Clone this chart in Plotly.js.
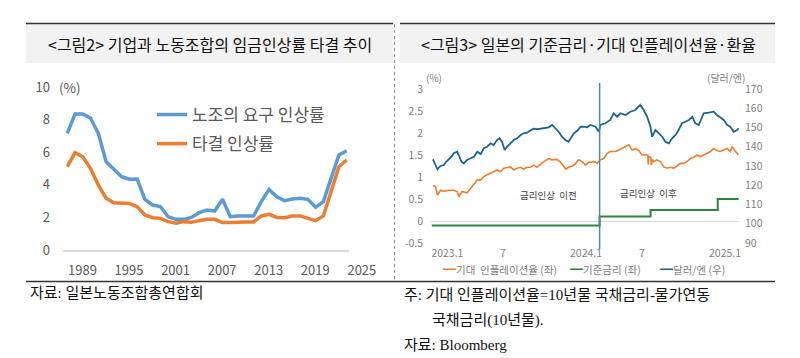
<!DOCTYPE html>
<html>
<head>
<meta charset="utf-8">
<script src="https://cdn.plot.ly/plotly-3.0.1.min.js"></script>
<style>
html,body{margin:0;padding:0;background:#fff;}
#chart{width:800px;height:358px;}
</style>
</head>
<body>
<div id="chart"></div>
<script>
// ---------- Left panel: 임금인상률 (Rengo) ----------
const wageYears = [1989,1990,1991,1992,1993,1994,1995,1996,1997,1998,1999,2000,2001,2002,2003,2004,2005,2006,2007,2008,2009,2010,2011,2012,2013,2014,2015,2016,2017,2018,2019,2020,2021,2022,2023,2024,2025];
const unionDemand = [7.16,8.34,8.34,8.08,7.16,5.42,4.95,4.50,4.34,4.36,3.11,2.76,2.66,2.04,1.88,1.88,2.00,2.29,2.45,2.39,3.11,2.04,2.08,2.08,2.08,2.97,3.72,3.27,3.02,3.13,3.17,3.11,2.62,2.97,4.40,5.83,6.09];
const settledRate = [5.11,5.97,5.72,5.00,3.99,3.17,2.90,2.86,2.86,2.66,2.15,1.98,1.94,1.74,1.64,1.74,1.70,1.80,1.88,1.88,1.68,1.68,1.72,1.72,1.72,2.09,2.19,2.00,1.98,2.09,2.09,1.94,1.80,2.09,3.58,5.11,5.52];
const wageNames = ['노조의 요구 인상률','타결 인상률'];
const wageTickYears = [1989,1995,2001,2007,2013,2019,2025];
const wageTickText = ['1989','1995','2001','2007','2013','2019','2025'];
const wageYTicks = [0,2,4,6,8,10];

// ---------- Right panel: 기준금리·기대인플레·환율 ----------
const fxDates = ['2023-01-05','2023-01-17','2023-01-25','2023-02-03','2023-02-09','2023-02-16','2023-02-23','2023-03-01','2023-03-10','2023-03-14','2023-03-21','2023-03-27','2023-04-05','2023-04-14','2023-04-23','2023-05-02','2023-05-11','2023-05-19','2023-05-28','2023-06-06','2023-06-14','2023-06-23','2023-06-29','2023-07-06','2023-07-13','2023-07-19','2023-07-28','2023-08-06','2023-08-15','2023-08-24','2023-09-01','2023-09-10','2023-09-19','2023-09-28','2023-10-06','2023-10-24','2023-11-06','2023-11-15','2023-11-23','2023-12-02','2023-12-11','2023-12-20','2023-12-28','2024-01-02','2024-01-11','2024-01-20','2024-01-29','2024-02-06','2024-02-15','2024-02-24','2024-03-08','2024-03-17','2024-03-21','2024-04-03','2024-04-16','2024-04-25','2024-05-04','2024-05-13','2024-05-26','2024-06-08','2024-06-21','2024-07-04','2024-07-13','2024-07-22','2024-07-31','2024-08-04','2024-08-13','2024-08-22','2024-08-31','2024-09-08','2024-09-17','2024-09-26','2024-10-05','2024-10-13','2024-10-22','2024-10-31','2024-11-09','2024-11-18','2024-11-26','2024-12-05','2024-12-18','2024-12-31','2025-01-13','2025-01-22','2025-01-31','2025-02-09','2025-02-18','2025-02-26','2025-03-07','2025-03-16','2025-03-20'];
const fxValues = [133.5,128.3,130.0,130.5,132.2,133.5,134.8,136.6,137.4,135.7,132.2,131.4,133.1,134.0,134.8,137.4,136.2,139.2,140.0,141.8,140.9,143.5,144.4,142.6,138.3,140.0,141.8,143.5,144.4,146.1,147.0,147.3,148.5,149.4,149.1,149.6,150.1,151.3,149.6,147.8,145.2,143.5,142.6,144.4,147.0,148.3,150.4,150.4,150.1,151.3,150.4,147.8,151.3,152.2,153.9,157.4,155.6,157.4,156.5,158.2,159.1,161.7,159.1,155.6,150.4,145.2,148.7,147.0,145.2,142.6,141.8,144.4,146.1,148.7,152.2,153.0,153.9,155.6,152.2,151.3,157.4,157.7,158.2,156.5,155.3,153.9,151.3,150.4,147.8,148.7,149.6];

const beiDates = ['2023-01-05','2023-01-12','2023-01-17','2023-01-25','2023-02-03','2023-02-16','2023-03-01','2023-03-10','2023-03-14','2023-03-23','2023-04-05','2023-04-14','2023-04-23','2023-05-02','2023-05-11','2023-05-19','2023-05-28','2023-06-06','2023-06-14','2023-06-23','2023-07-02','2023-07-11','2023-07-19','2023-07-28','2023-08-06','2023-08-15','2023-08-24','2023-09-01','2023-09-10','2023-09-19','2023-09-28','2023-10-06','2023-10-24','2023-11-06','2023-11-15','2023-11-27','2023-12-06','2023-12-14','2023-12-21','2023-12-28','2024-01-07','2024-01-15','2024-01-24','2024-02-02','2024-02-11','2024-02-19','2024-03-04','2024-03-13','2024-03-21','2024-03-30','2024-04-08','2024-04-16','2024-04-30','2024-05-08','2024-05-17','2024-05-26','2024-06-04','2024-06-13','2024-06-21','2024-06-30','2024-07-09','2024-07-18','2024-07-24','2024-07-25','2024-07-26','2024-08-01','2024-08-02','2024-08-05','2024-08-08','2024-08-17','2024-08-26','2024-09-04','2024-09-13','2024-09-21','2024-09-30','2024-10-09','2024-10-18','2024-10-26','2024-11-04','2024-11-13','2024-11-22','2024-12-01','2024-12-09','2024-12-18','2024-12-27','2025-01-05','2025-01-13','2025-01-22','2025-01-31','2025-02-09','2025-02-18','2025-02-26','2025-03-03','2025-03-12','2025-03-19'];
const beiValues = [0.80,0.78,0.59,0.70,0.67,0.70,0.70,0.67,0.55,0.67,0.64,0.74,0.82,0.93,0.93,1.01,1.05,1.08,1.12,1.16,1.12,1.20,1.22,1.23,1.16,1.20,1.22,1.18,1.22,1.22,1.27,1.22,1.35,1.42,1.39,1.40,1.35,1.27,1.18,1.22,1.25,1.30,1.39,1.35,1.27,1.33,1.35,1.31,1.39,1.42,1.54,1.58,1.58,1.61,1.65,1.69,1.73,1.61,1.65,1.60,1.50,1.50,1.50,1.28,1.47,1.45,1.27,1.40,1.35,1.39,1.35,1.23,1.20,1.22,1.20,1.25,1.31,1.31,1.35,1.42,1.45,1.50,1.46,1.50,1.54,1.58,1.65,1.60,1.58,1.61,1.65,1.58,1.69,1.58,1.50];

const policyDates = ['2023-01-02','2024-03-19','2024-07-31','2025-01-24','2025-03-20'];
const policyValues = [-0.1,0.1,0.25,0.5,0.5];

const hikeDate = '2024-03-19';
const rightNames = ['기대  인플레이션율 (좌)','기준금리 (좌)','달러/엔 (우)'];
const rightTickDates = ['2023-01-01','2023-07-01','2024-01-01','2024-07-01','2025-01-01'];
const rightTickText = ['2023.1','7','2024.1','7','2025.1'];
const leftTicks = [-0.5,0,0.5,1,1.5,2,2.5,3];
const leftTickText = ['-0.5','0','0.5','1','1.5','2','2.5','3'];
const rightTicks = [90,100,110,120,130,140,150,160,170];

// ---------- helpers ----------
const W = 800, H = 358;
const px = v => v / W;
const py = v => 1 - v / H;

const FONT = '"Noto Sans CJK KR", "Noto Sans", sans-serif';
const SERIF = '"Liberation Serif", "Noto Sans CJK KR", serif';
const cBlue = '#5B9BD5', cOrange = '#ED7D31';
const cFx = '#1F6391', cBei = '#ED7D31', cPol = '#2E8540';

const traces = [
  {x: wageYears, y: unionDemand, name: wageNames[0], type: 'scatter', mode: 'lines',
   line: {color: cBlue, width: 3.5}, xaxis: 'x', yaxis: 'y', legendgroup: 'a', hoverinfo: 'skip'},
  {x: wageYears, y: settledRate, name: wageNames[1], type: 'scatter', mode: 'lines',
   line: {color: cOrange, width: 3.5}, xaxis: 'x', yaxis: 'y', legendgroup: 'b', hoverinfo: 'skip'},
  {x: policyDates, y: policyValues, name: rightNames[1], type: 'scatter', mode: 'lines',
   line: {color: cPol, width: 2, shape: 'hv'}, xaxis: 'x2', yaxis: 'y2', showlegend: false, hoverinfo: 'skip'},
  {x: beiDates, y: beiValues, name: rightNames[0], type: 'scatter', mode: 'lines',
   line: {color: cBei, width: 1.6}, xaxis: 'x2', yaxis: 'y2', showlegend: false, hoverinfo: 'skip'},
  {x: fxDates, y: fxValues, name: rightNames[2], type: 'scatter', mode: 'lines',
   line: {color: cFx, width: 1.8}, xaxis: 'x2', yaxis: 'y3', showlegend: false, hoverinfo: 'skip'}
];

const rightColors = [cBei, cPol, cFx];
const legendX = [442, 569, 659];
const legendAnn = rightNames.map((n, i) => ({
  xref: 'paper', yref: 'paper', x: px(legendX[i]), y: py(268), xanchor: 'left', yanchor: 'middle',
  showarrow: false, borderpad: 0,
  text: '<span style="color:' + rightColors[i] + ';font-size:13px">━</span>' + n,
  font: {family: FONT, size: 10.5, color: '#7f7f7f'}
}));

const ann = [
  // titles
  {xref:'paper', yref:'paper', x: px(210), y: py(44), xanchor:'center', yanchor:'middle', showarrow:false,
   text:'&lt;그림2&gt; 기업과 노동조합의 임금인상률 타결 추이', font:{family: FONT, size:16, color:'#111'}},
  {xref:'paper', yref:'paper', x: px(588), y: py(44), xanchor:'center', yanchor:'middle', showarrow:false,
   text:'&lt;그림3&gt; 일본의 기준금리·기대 인플레이션율·환율', font:{family: FONT, size:16, color:'#111'}},
  // units
  {xref:'paper', yref:'paper', x: px(70), y: py(87), xanchor:'center', yanchor:'middle', showarrow:false,
   text:'(%)', font:{family: FONT, size:13.5, color:'#595959'}},
  {xref:'paper', yref:'paper', x: px(434), y: py(78), xanchor:'center', yanchor:'middle', showarrow:false,
   text:'(%)', font:{family: FONT, size:10, color:'#7f7f7f'}},
  {xref:'paper', yref:'paper', x: px(726), y: py(78), xanchor:'center', yanchor:'middle', showarrow:false,
   text:'(달러/엔)', font:{family: FONT, size:10, color:'#7f7f7f'}},
  // period labels
  {xref:'paper', yref:'paper', x: px(548), y: py(195), xanchor:'center', yanchor:'middle', showarrow:false,
   text:'금리인상  이전', font:{family: FONT, size:9.5, color:'#404040'}},
  {xref:'paper', yref:'paper', x: px(648), y: py(193), xanchor:'center', yanchor:'middle', showarrow:false,
   text:'금리인상  이후', font:{family: FONT, size:9.5, color:'#404040'}},
  // footnotes
  {xref:'paper', yref:'paper', x: px(28), y: py(293), xanchor:'left', yanchor:'middle', showarrow:false,
   text:'자료: 일본노동조합총연합회', font:{family: SERIF, size:15, color:'#111'}},
  {xref:'paper', yref:'paper', x: px(402), y: py(295), xanchor:'left', yanchor:'middle', showarrow:false,
   text:'주: 기대 인플레이션율=10년물 국채금리-물가연동', font:{family: SERIF, size:15, color:'#111'}},
  {xref:'paper', yref:'paper', x: px(430), y: py(320), xanchor:'left', yanchor:'middle', showarrow:false,
   text:'국채금리(10년물).', font:{family: SERIF, size:15, color:'#111'}},
  {xref:'paper', yref:'paper', x: px(402), y: py(345), xanchor:'left', yanchor:'middle', showarrow:false,
   text:'자료: Bloomberg', font:{family: SERIF, size:15, color:'#111'}}
].concat(legendAnn);

const shapes = [
  {type:'rect', xref:'paper', yref:'paper', x0:px(26), x1:px(393), y0:py(63), y1:py(24), fillcolor:'#F2F2F2', line:{width:0}, layer:'below'},
  {type:'rect', xref:'paper', yref:'paper', x0:px(400), x1:px(775), y0:py(63), y1:py(24), fillcolor:'#F2F2F2', line:{width:0}, layer:'below'},
  {type:'line', xref:'paper', yref:'paper', x0:px(26), x1:px(393), y0:py(23.5), y1:py(23.5), line:{color:'#333', width:1.5}},
  {type:'line', xref:'paper', yref:'paper', x0:px(400), x1:px(775), y0:py(23.5), y1:py(23.5), line:{color:'#333', width:1.5}},
  {type:'line', xref:'paper', yref:'paper', x0:px(394.5), x1:px(394.5), y0:py(24), y1:py(281), line:{color:'#8c8c8c', width:1, dash:'dot'}},
  {type:'line', xref:'paper', yref:'paper', x0:px(26), x1:px(775), y0:py(281.5), y1:py(281.5), line:{color:'#333', width:1.5}},
  {type:'line', xref:'x2', yref:'paper', x0:hikeDate, x1:hikeDate, y0:py(249), y1:py(83), line:{color:'#4F86B0', width:1.5}}
];

const layout = {
  width: W, height: H,
  margin: {l:0, r:0, t:0, b:0, pad:0},
  paper_bgcolor: '#fff', plot_bgcolor: 'rgba(0,0,0,0)',
  font: {family: FONT},
  showlegend: true,
  legend: {x: px(152), y: py(97), xanchor:'left', yanchor:'top', bgcolor:'rgba(0,0,0,0)',
           font:{family: FONT, size:17, color:'#595959'}, traceorder:'grouped', tracegroupgap: 4, itemwidth: 30},
  xaxis: {domain:[px(63), px(349)], range:[1988.45, 2025.3], anchor:'y',
          tickvals: wageTickYears, ticktext: wageTickText, ticklabelposition:'outside right',
          showline:true, linecolor:'#d9d9d9', linewidth:1.5, showgrid:false, zeroline:false, ticks:'',
          tickfont:{family: FONT, size:13, color:'#595959'}, ticklabelstandoff: 8, fixedrange:true},
  yaxis: {domain:[py(250), py(87)], range:[0,10], anchor:'x',
          tickvals: wageYTicks, showgrid:false, zeroline:false, showline:false, ticks:'',
          tickfont:{family: FONT, size:13, color:'#595959'}, ticklabelstandoff: 12, fixedrange:true},
  xaxis2: {domain:[px(431), px(739)], type:'date', range:['2022-12-31','2025-03-21'], anchor:'y2',
           tickvals: rightTickDates, ticktext: rightTickText, ticklabelposition:'outside right',
           showline:false, showgrid:false, zeroline:false, ticks:'',
           tickfont:{family: FONT, size:10.5, color:'#7f7f7f'}, ticklabelstandoff: 2, fixedrange:true},
  yaxis2: {domain:[py(243), py(89)], range:[-0.5,3], anchor:'x2',
           tickvals: leftTicks, ticktext: leftTickText, showgrid:false, zeroline:true, zerolinecolor:'#d9d9d9', zerolinewidth:1,
           showline:false, ticks:'', tickfont:{family: FONT, size:10.5, color:'#7f7f7f'}, ticklabelstandoff: 7, fixedrange:true},
  yaxis3: {domain:[py(243), py(89)], range:[90,170], anchor:'x2', overlaying:'y2', side:'right',
           tickvals: rightTicks, showgrid:false, zeroline:false, showline:false, ticks:'',
           tickfont:{family: FONT, size:10.5, color:'#7f7f7f'}, ticklabelstandoff: 5, fixedrange:true},
  annotations: ann,
  shapes: shapes
};

Plotly.newPlot('chart', traces, layout, {staticPlot:true, displayModeBar:false});
</script>
</body>
</html>
